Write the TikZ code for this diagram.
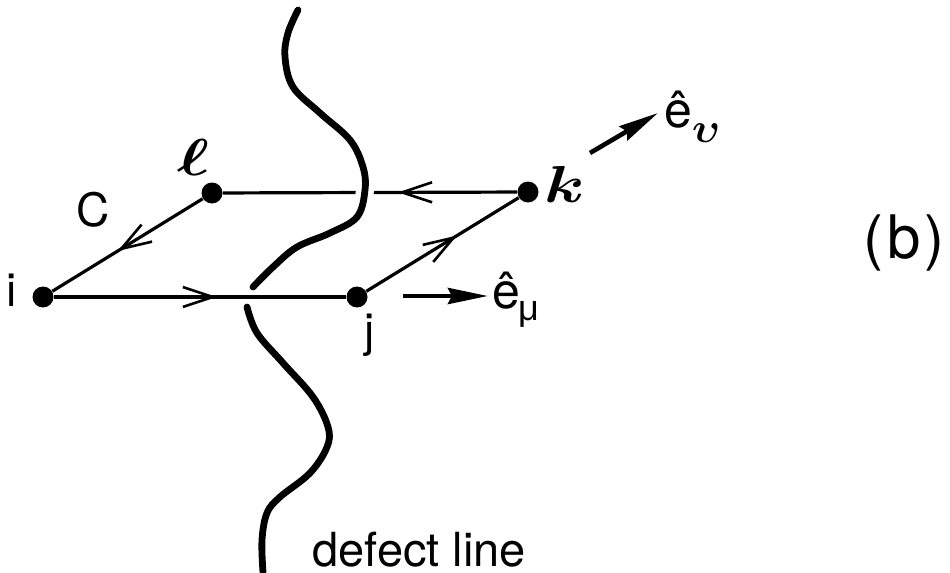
\RequirePackage{fix-cm}
\documentclass[tikz,border=0pt]{standalone}
\usepackage{graphicx}
\usepackage{fontspec}
\setmainfont{TeX Gyre Heros}
\newfontfamily\grkfont{Liberation Sans}
\usetikzlibrary{arrows.meta,decorations.markings}
\newcommand{\elllabel}{{\fontsize{26}{30}\selectfont\boldmath\scalebox{1.3}[1]{$\ell$}}}
\newcommand{\klabel}{{\fontsize{26}{30}\selectfont\boldmath\scalebox{1.25}[1]{$k$}}}
\newcommand{\upslabel}{{\fontsize{21}{25}\selectfont\boldmath$\upsilon$}}
\begin{document}
\begin{tikzpicture}[x=0.5pt,y=-0.5pt,
  dotnode/.style={circle,fill=black,inner sep=0pt,minimum size=10.5pt},
  lbl/.style={inner sep=0pt,font=\fontsize{23}{27}\selectfont},
  link/.style={line width=1.6pt},
  midarrow/.style={postaction={decorate},decoration={markings,mark=at position #1 with {\arrow{Straight Barb[length=15pt,width=10pt,line width=1.3pt]}}}},
  defect/.style={line width=3.4pt,line cap=round},
  evec/.style={line width=2.3pt,-{Stealth[length=20pt,width=8pt,inset=2pt]}}
]
\useasboundingbox (0,0) rectangle (950,573);

% lattice sites
\node[dotnode] (i) at (43,297) {};
\node[dotnode] (j) at (357,297) {};
\node[dotnode] (k) at (528,192) {};
\node[dotnode] (l) at (212,193) {};

% back link k -> l (passes under the defect line)
\draw[link,midarrow=0.405] (k) -- (l);

% defect line, upper part (in front of the k-l link)
\draw[defect,preaction={draw=white,line width=9pt,line cap=butt}] plot[smooth,tension=0.6] coordinates {
  (298,10) (288,33) (285,57) (293,87) (320,113) (350,140) (363,167)
  (365,190) (357,217) (330,233) (297,247) (273,267) (253,287)};
% defect line, lower part (behind the i-j link)
\draw[defect] plot[smooth,tension=0.6] coordinates {
  (247,307) (257,333) (283,363) (313,397) (328,427) (327,447) (310,473)
  (280,497) (267,513) (262,540) (263,572)};

% remaining links
\draw[link,midarrow=0.558] (i) -- (j);
\draw[link,midarrow=0.596] (j) -- (k);
\draw[link,midarrow=0.566] (l) -- (i);

% labels
\node[lbl,anchor=base] (il) at (12,306) {i};
\node[lbl,anchor=base] (jl) at (370,346) {j};
\node[lbl,anchor=base] (cl) at (93,227) {C};
\node[lbl,anchor=base] (ll) at (194,175) {\elllabel};
\node[lbl,anchor=base] (kl) at (565,202) {\klabel};

% unit vectors
\coordinate (nu0) at (590,153);
\coordinate (nu1) at (658,113);
\draw[evec] (nu0) -- (nu1);
\node[inner sep=0pt,anchor=base west] (enu) at (664,127)
  {\fontsize{25}{30}\selectfont ê\raisebox{-7.5pt}{\upslabel}};

\coordinate (mu0) at (403,296);
\coordinate (mu1) at (488,296);
\draw[evec] (mu0) -- (mu1);
\node[inner sep=0pt,anchor=base west] (emu) at (492,308)
  {\fontsize{25}{30}\selectfont ê\hspace{-1pt}\raisebox{-6pt}{\grkfont\fontsize{18}{22}\selectfont μ}};

% captions
\node[inner sep=0pt,anchor=base,font=\fontsize{30}{36}\selectfont] (cap) at (904,258) {(\kern2pt b\kern2pt)};
\node[inner sep=0pt,anchor=base west,font=\fontsize{23.5}{28}\selectfont] (dl) at (312,566) {defect line};
\end{tikzpicture}
\end{document}
